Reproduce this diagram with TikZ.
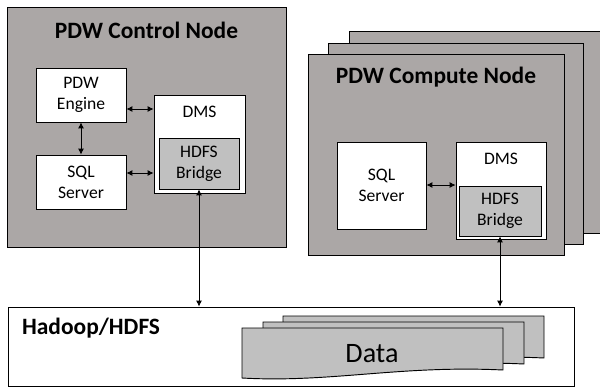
\documentclass[tikz,border=0pt]{standalone}
\usepackage{fontspec}
\setmainfont{Carlito}
\usetikzlibrary{arrows.meta}

\definecolor{nodegray}{RGB}{171,167,166}
\definecolor{bridgegray}{RGB}{192,192,192}

\tikzset{
    server/.style={draw, line width=0.8pt, fill=nodegray, inner sep=0pt},
    part/.style={draw, line width=0.8pt, fill=white, align=center, inner sep=0pt,
        font=\fontsize{15}{18}\selectfont},
    bridge/.style={part, fill=bridgegray},
    title/.style={font=\fontsize{20}{24}\selectfont\bfseries},
    link/.style={{Latex[length=5pt,width=5pt]}-{Latex[length=5pt,width=5pt]}, line width=0.6pt},
    datasheet/.style={draw, line width=0.8pt, fill=bridgegray}
}

\begin{document}
\begin{tikzpicture}[x=0.03cm, y=-0.03cm]
    \useasboundingbox (0,0) rectangle (600,389);

    % Control node
    \node[server, minimum width=8.37cm, minimum height=7.2cm] (ctrl) at (146.5,127) {};
    \node[title] (ctrltitle) at (146.5,30) {PDW Control Node};

    \node[part, minimum width=2.7cm, minimum height=1.62cm] (eng) at (81,95) {PDW\\Engine};
    \node[part, minimum width=2.7cm, minimum height=1.62cm] (sqlc) at (81,182) {SQL\\Server};
    \node[part, minimum width=2.73cm, minimum height=2.94cm] (dmsc) at (199.5,144) {};
    \node[font=\fontsize{15}{18}\selectfont] (dmsclbl) at (199.5,112) {DMS};
    \node[bridge, minimum width=2.4cm, minimum height=1.53cm] (brc) at (199,163.5) {HDFS\\Bridge};

    \draw[link] (eng.south) -- (sqlc.north);
    \draw[link] (eng.east |- 0,109) -- (dmsc.west |- 0,109);
    \draw[link] (sqlc.east |- 0,173) -- (dmsc.west |- 0,173);

    % Compute nodes (stacked)
    \node[server, minimum width=7.68cm, minimum height=6.06cm] (comp3) at (477,132) {};
    \node[server, minimum width=7.65cm, minimum height=6.03cm] (comp2) at (455.5,143.5) {};
    \node[server, minimum width=7.68cm, minimum height=6.03cm] (comp) at (436,154.5) {};
    \node[title] (comptitle) at (436,77) {PDW Compute Node};

    \node[part, minimum width=2.67cm, minimum height=2.61cm] (sqlp) at (381.5,185.5) {SQL\\Server};
    \node[part, minimum width=2.7cm, minimum height=2.91cm] (dmsp) at (501,190.5) {};
    \node[font=\fontsize{15}{18}\selectfont] (dmsplbl) at (501,159) {DMS};
    \node[bridge, minimum width=2.46cm, minimum height=1.5cm] (brp) at (500,211) {HDFS\\Bridge};

    \draw[link] (sqlp.east |- 0,185) -- (dmsp.west |- 0,185);

    % Hadoop
    \node[draw, line width=0.8pt, minimum width=16.98cm, minimum height=2.37cm, inner sep=0pt] (had) at (291,346.5) {};
    \node[title, anchor=west] (hadlbl) at (18,328) {Hadoop/HDFS};

    \foreach \dx/\dy in {41/-12, 21/-6, 0/0} {
        \filldraw[datasheet, shift={(\dx,\dy)}] (242,328) -- (503,328) -- (503,370)
            .. controls (400,365) and (330,383) .. (242,378) -- cycle;
    }
    \node[font=\fontsize{24}{28}\selectfont] (data) at (372,354) {Data};

    \draw[link] (brc.south) -- (brc.south |- had.north);
    \draw[link] (brp.south) -- (brp.south |- had.north);

\end{tikzpicture}
\end{document}
